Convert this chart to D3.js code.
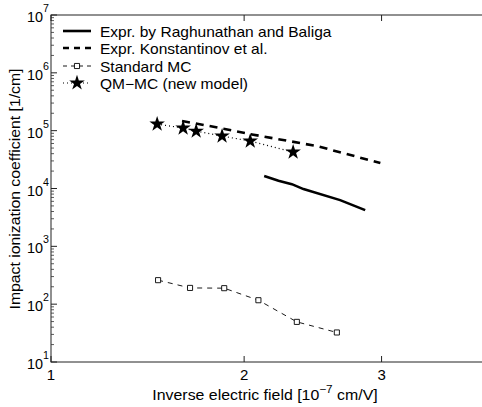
<!DOCTYPE html>
<html>
<head>
<meta charset="utf-8">
<script src="https://cdn.jsdelivr.net/npm/d3@7"></script>
<style>
  body { margin: 0; background: #fff; }
  svg { display: block; font-family: "Liberation Sans", Arial, sans-serif; }
</style>
</head>
<body>
<svg width="482" height="407"></svg>
<script>
// data
var raghuX = [2.13, 2.226, 2.318, 2.40, 2.671, 2.867];
var raghuY = [16400, 13600, 11900, 9770, 6300, 4230];

var konstX = [1.63, 1.851, 2.05, 2.50, 2.99];
var konstY = [147000, 111000, 86000, 54000, 27500];

var stdX = [1.50, 1.675, 1.876, 2.092, 2.353, 2.646];
var stdY = [260, 191, 189, 117, 49.4, 32.4];

var qmX = [1.495, 1.636, 1.71, 1.863, 2.039, 2.327];
var qmY = [130000, 111000, 98000, 80700, 66000, 42600];

var xTicks = [1, 2, 3];
var yTicks = [1e1, 1e2, 1e3, 1e4, 1e5, 1e6, 1e7];

var legendLabels = ["Expr. by Raghunathan and Baliga", "Expr. Konstantinov et al.",
                    "Standard MC", "QM\u2212MC (new model)"];

var svg = d3.select("svg");
var plotLeft = 51, plotTop = 15, plotBottom = 362;

var x = d3.scalePow().exponent(0.36).domain([1, 4]).range([plotLeft, 492]);
var y = d3.scaleLog().domain([10, 1e7]).range([plotBottom, plotTop]);

var zip = (xs, ys) => xs.map((v, i) => [v, ys[i]]);
var line = d3.line().x(d => x(d[0])).y(d => y(d[1]));

// frame
svg.append("rect")
    .attr("x", plotLeft).attr("y", plotTop)
    .attr("width", x(4) - plotLeft + 10).attr("height", plotBottom - plotTop)
    .attr("fill", "none").attr("stroke", "#222").attr("stroke-width", 1);

// y ticks (inside), with log minor ticks
var minor = [];
for (var e = 1; e < 7; e++) {
    for (var m = 2; m < 10; m++) minor.push(m * Math.pow(10, e));
}
svg.append("g").selectAll("line").data(minor).enter().append("line")
    .attr("x1", plotLeft).attr("x2", plotLeft + 3)
    .attr("y1", d => y(d)).attr("y2", d => y(d))
    .attr("stroke", "#333").attr("stroke-width", 0.8);
svg.append("g").selectAll("line").data(yTicks).enter().append("line")
    .attr("x1", plotLeft).attr("x2", plotLeft + 6)
    .attr("y1", d => y(d)).attr("y2", d => y(d))
    .attr("stroke", "#222");

// y tick labels 10^n (the scanned digits are a bit narrow)
var yl = svg.append("g").selectAll("g").data(yTicks).enter().append("g")
    .attr("transform", d => "translate(" + (plotLeft - 2) + "," + (y(d) + 7) + ") scale(0.93,1)")
    .append("text")
    .attr("text-anchor", "end")
    .style("font-size", "15.5px");
yl.append("tspan").text("10");
yl.append("tspan").attr("dy", -10).style("font-size", "11.5px")
    .text(d => Math.round(Math.log10(d)));

// x ticks, bottom and top
svg.append("g").selectAll("line").data(xTicks).enter().append("line")
    .attr("x1", d => x(d)).attr("x2", d => x(d))
    .attr("y1", plotBottom).attr("y2", plotBottom - 6)
    .attr("stroke", "#222");
svg.append("g").selectAll("line").data(xTicks).enter().append("line")
    .attr("x1", d => x(d)).attr("x2", d => x(d))
    .attr("y1", plotTop).attr("y2", plotTop + 6)
    .attr("stroke", "#222");
svg.append("g").selectAll("text").data(xTicks).enter().append("text")
    .attr("x", d => x(d)).attr("y", plotBottom + 18)
    .attr("text-anchor", "middle")
    .style("font-size", "15px")
    .text(d => d);

// axis titles
var xt = svg.append("g")
    .attr("transform", "translate(265,400) scale(1.12,1)")
    .append("text")
    .attr("text-anchor", "middle")
    .style("font-size", "14.2px");
xt.append("tspan").text("Inverse electric field [10");
xt.append("tspan").attr("dy", -7).style("font-size", "10.5px").text("\u22127");
xt.append("tspan").attr("dy", 7).text(" cm/V]");

svg.append("text")
    .attr("transform", "translate(20,189) rotate(-90)")
    .attr("text-anchor", "middle")
    .style("font-size", "15px")
    .attr("textLength", 241)
    .attr("lengthAdjust", "spacingAndGlyphs")
    .text("Impact ionization coefficient [1/cm]");

// series
svg.append("path").datum(zip(raghuX, raghuY))
    .attr("d", line).attr("fill", "none")
    .attr("stroke", "#000").attr("stroke-width", 2.6);

svg.append("path").datum(zip(konstX, konstY))
    .attr("d", line).attr("fill", "none")
    .attr("stroke", "#000").attr("stroke-width", 2.6)
    .attr("stroke-dasharray", "8,6");

svg.append("path").datum(zip(stdX, stdY))
    .attr("d", line).attr("fill", "none")
    .attr("stroke", "#000").attr("stroke-width", 0.9)
    .attr("stroke-dasharray", "5,5");
svg.append("g").selectAll("path").data(zip(stdX, stdY)).enter().append("path")
    .attr("d", d3.symbol(d3.symbolSquare, 26))
    .attr("transform", d => "translate(" + x(d[0]) + "," + y(d[1]) + ")")
    .attr("fill", "#fff").attr("stroke", "#000").attr("stroke-width", 0.9);

svg.append("path").datum(zip(qmX, qmY))
    .attr("d", line).attr("fill", "none")
    .attr("stroke", "#000").attr("stroke-width", 1.2)
    .attr("stroke-dasharray", "1,3");
svg.append("g").selectAll("path").data(zip(qmX, qmY)).enter().append("path")
    .attr("d", d3.symbol(d3.symbolStar, 75))
    .attr("transform", d => "translate(" + x(d[0]) + "," + y(d[1]) + ")")
    .attr("fill", "#000");

// legend
var lg = svg.append("g");
var rows = [31, 48, 66, 83];
var styles = [
    {w: 2.6, dash: null},
    {w: 2.6, dash: "6,5"},
    {w: 0.9, dash: "4,4"},
    {w: 1.2, dash: "1,3"}
];
rows.forEach((ry, i) => {
    lg.append("line")
        .attr("x1", 63).attr("x2", 91).attr("y1", ry).attr("y2", ry)
        .attr("stroke", "#000").attr("stroke-width", styles[i].w)
        .attr("stroke-dasharray", styles[i].dash);
    lg.append("g")
        .attr("transform", "translate(100," + (ry + 6) + ") scale(1.11,1)")
        .append("text")
        .style("font-size", "14px")
        .text(legendLabels[i]);
});
lg.append("path")
    .attr("d", d3.symbol(d3.symbolSquare, 26))
    .attr("transform", "translate(77," + rows[2] + ")")
    .attr("fill", "#fff").attr("stroke", "#000").attr("stroke-width", 0.9);
lg.append("path")
    .attr("d", d3.symbol(d3.symbolStar, 75))
    .attr("transform", "translate(77," + rows[3] + ")")
    .attr("fill", "#000");
</script>
</body>
</html>
